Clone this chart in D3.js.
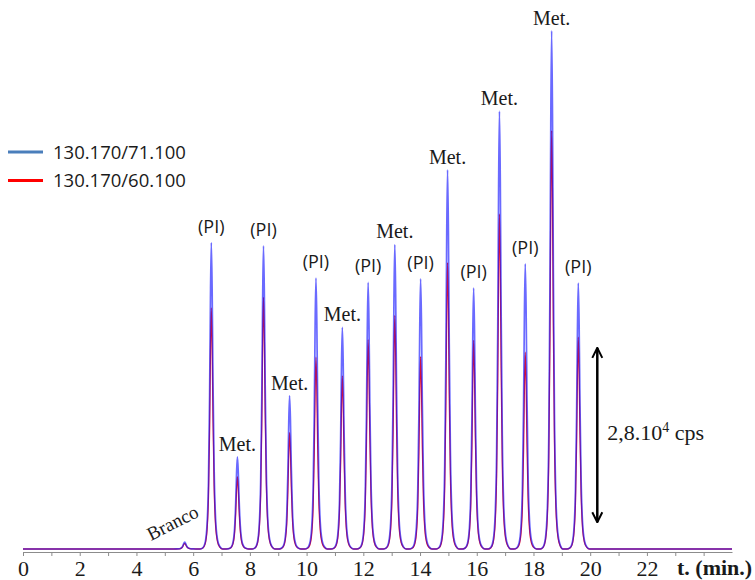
<!DOCTYPE html>
<html>
<head>
<meta charset="utf-8">
<script src="https://cdnjs.cloudflare.com/ajax/libs/d3/7.8.5/d3.min.js"></script>
<style>
  body { margin: 0; background: #fff; }
  svg { display: block; }
</style>
</head>
<body>
<svg></svg>
<script>
var width = 755;
var height = 580;

// retention times (min) and peak heights (cps)
var peakTimes = [6.64, 7.56, 8.48, 9.40, 10.33, 11.26, 12.17, 13.11, 14.02, 14.97, 15.89, 16.80, 17.71, 18.64, 19.58];
var peakLabels = ['(PI)', 'Met.', '(PI)', 'Met.', '(PI)', 'Met.', '(PI)', 'Met.', '(PI)', 'Met.', '(PI)', 'Met.', '(PI)', 'Met.', '(PI)'];
var blueHeights = [49200, 14800, 48700, 24600, 43500, 35600, 42800, 48900, 43400, 60900, 41900, 70300, 45800, 83200, 42700];
var redHeights = [38700, 11600, 40400, 18700, 30800, 27800, 33600, 37500, 30900, 46000, 33500, 53800, 31600, 67200, 34000];

// blank injection
var brancoTime = 5.70;
var brancoBlue = 1100;
var brancoRed = 900;

// shape of one peak: offset from apex (min) and fraction of height
var profileOffsets = [-0.40, -0.30, -0.22, -0.15, -0.10, -0.06, -0.03, 0, 0.03, 0.06, 0.10, 0.15, 0.22, 0.30, 0.40];
var profileFractions = [0, 0.004, 0.02, 0.08, 0.22, 0.5, 0.82, 1, 0.84, 0.54, 0.26, 0.1, 0.03, 0.008, 0];

var seriesNames = ['130.170/71.100', '130.170/60.100'];
var arrowTime = 20.25;
var arrowLow = 4300;
var arrowSpan = 28000;

var serif = '"Liberation Serif", "Times New Roman", serif';
var sans = '"Open Sans", sans-serif';

var x = d3.scaleLinear().domain([0, 25]).range([23, 732]);
var y = d3.scaleLinear().domain([0, 88000]).range([549, 1]);

function buildTrace(heights, brancoH) {
    var pts = [[0, 0]];
    var times = [brancoTime].concat(peakTimes);
    var hs = [brancoH].concat(heights);
    times.forEach(function(t, i) {
        profileOffsets.forEach(function(o, j) {
            pts.push([t + o, hs[i] * profileFractions[j]]);
        });
    });
    pts.push([25, 0]);
    return pts;
}

var svg = d3.select('svg')
    .attr('width', width)
    .attr('height', height);

// x axis
var axis = d3.axisBottom(x)
    .tickValues(d3.range(0, 25, 1))
    .tickFormat(d => (d % 2 === 0 && d <= 22) ? String(d) : '')
    .tickSize(4)
    .tickSizeOuter(0)
    .tickPadding(4);

var gAxis = svg.append('g')
    .attr('transform', 'translate(0, 552)')
    .call(axis);

gAxis.select('.domain').attr('stroke', '#8c8c8c').attr('stroke-width', 1.2);
gAxis.selectAll('.tick line').attr('stroke', '#8c8c8c');
gAxis.selectAll('.tick text')
    .attr('fill', '#1a1a1a')
    .style('font-family', serif)
    .style('font-size', '22px');

svg.append('text')
    .attr('x', 677)
    .attr('y', 575)
    .style('font-family', serif)
    .style('font-size', '22px')
    .style('font-weight', 'bold')
    .attr('fill', '#1a1a1a')
    .text('t. (min.)');

// traces
var line = d3.line()
    .x(d => x(d[0]))
    .y(d => y(d[1]))
    .curve(d3.curveMonotoneX);

svg.append('path')
    .datum(buildTrace(redHeights, brancoRed))
    .attr('fill', 'none')
    .attr('stroke', '#ee1122')
    .attr('stroke-width', 1.3)
    .attr('d', line);

svg.append('path')
    .datum(buildTrace(blueHeights, brancoBlue))
    .attr('fill', 'none')
    .attr('stroke', '#1a1aff')
    .attr('stroke-opacity', 0.65)
    .attr('stroke-width', 1.7)
    .attr('d', line);

// peak labels
svg.selectAll('.peak-label')
    .data(peakTimes)
    .enter()
    .append('text')
        .classed('peak-label', true)
        .attr('x', d => x(d))
        .attr('y', (d, i) => y(blueHeights[i]) - (peakLabels[i] === 'Met.' ? 6 : 10))
        .attr('text-anchor', 'middle')
        .attr('fill', '#1a1a1a')
        .style('font-family', (d, i) => peakLabels[i] === 'Met.' ? serif : sans)
        .style('font-size', (d, i) => peakLabels[i] === 'Met.' ? '20px' : '18px')
        .text((d, i) => peakLabels[i]);

svg.append('text')
    .attr('transform', 'translate(151, 541) rotate(-27)')
    .style('font-family', serif)
    .style('font-size', '19px')
    .attr('fill', '#1a1a1a')
    .text('Branco');

// scale arrow
var defs = svg.append('defs');
defs.append('marker')
    .attr('id', 'head')
    .attr('viewBox', '0 0 10 10')
    .attr('refX', 9)
    .attr('refY', 5)
    .attr('markerWidth', 5)
    .attr('markerHeight', 5)
    .attr('orient', 'auto-start-reverse')
    .append('path')
        .attr('d', 'M1,1 L9,5 L1,9')
        .attr('fill', 'none')
        .attr('stroke', '#000')
        .attr('stroke-width', 1.6);

svg.append('line')
    .attr('x1', x(arrowTime))
    .attr('x2', x(arrowTime))
    .attr('y1', y(arrowLow))
    .attr('y2', y(arrowLow + arrowSpan))
    .attr('stroke', '#000')
    .attr('stroke-width', 2.5)
    .attr('marker-start', 'url(#head)')
    .attr('marker-end', 'url(#head)');

var arrowText = svg.append('text')
    .attr('x', x(arrowTime) + 10)
    .attr('y', 440)
    .style('font-family', serif)
    .style('font-size', '22px')
    .attr('fill', '#1a1a1a');
arrowText.append('tspan').text('2,8.10');
arrowText.append('tspan').attr('dy', -8).style('font-size', '14px').text('4');
arrowText.append('tspan').attr('dy', 8).text(' cps');

// legend
var legendColors = ['#4a7ebb', '#ff0000'];
var legend = svg.selectAll('.legend')
    .data(seriesNames)
    .enter()
    .append('g')
        .classed('legend', true)
        .attr('transform', (d, i) => 'translate(0, ' + (152 + i * 28.5) + ')');

legend.append('line')
    .attr('x1', 8)
    .attr('x2', 43)
    .attr('stroke', (d, i) => legendColors[i])
    .attr('stroke-width', 3);

legend.append('text')
    .attr('x', 53)
    .attr('y', 6.5)
    .style('font-family', sans)
    .style('font-size', '18.5px')
    .attr('fill', '#1a1a1a')
    .text(d => d);
</script>
</body>
</html>
